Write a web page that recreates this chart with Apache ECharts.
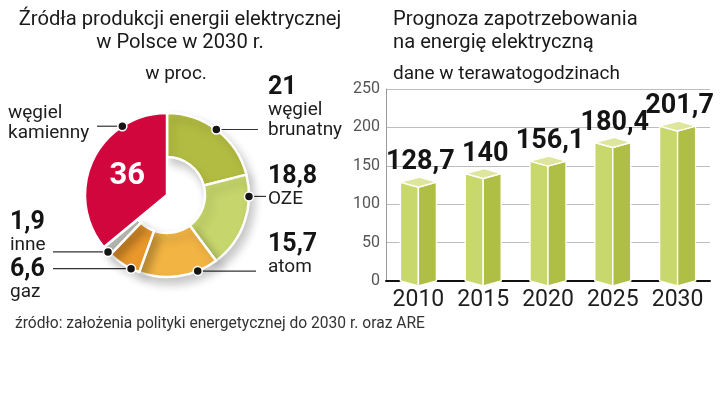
<!DOCTYPE html>
<html><head><meta charset="utf-8">
<script src="https://cdn.jsdelivr.net/npm/echarts@6/dist/echarts.min.js"></script>
<style>html,body{margin:0;padding:0;background:#fff}#c{width:720px;height:393px}</style>
</head><body><div id="c"></div>
<script>
// ---- data ----
const sliceNames = ['węgiel brunatny', 'OZE', 'atom', 'gaz', 'inne', 'węgiel kamienny'];
const sliceValues = [21, 18.8, 15.7, 6.6, 1.9, 36];
const years = ['2010', '2015', '2020', '2025', '2030'];
const demand = [128.7, 140, 156.1, 180.4, 201.7];
const yMin = 0, yMax = 250, yStep = 50;

// ---- style ----
const sliceColors = ['#b3bc42', '#c6d66c', '#f2b443', '#ea982b', '#b6bab1', '#d1063d'];
const RED = sliceNames.length - 1;
const C = [167, 195], R = 82, R0 = 38;
const labelSpec = [ // anchor angle (deg clockwise from top), label x, label y, leader end x
  { a: 37, x: 268, y: 76, lx: 258 },
  { a: 91, x: 268, y: 165, lx: 266 },
  { a: 158, x: 268, y: 233, lx: 256 },
  { a: 206, x: 10, y: 258, lx: 53 },
  { a: 226, x: 10, y: 211, lx: 53 },
  { a: 327, x: 8, y: 103, lx: 97 }
];
const TXT = 'Roboto, "Noto Sans", sans-serif';
const fmt = v => String(v).replace('.', ',');
function anchor(i) {
  const r = labelSpec[i].a * Math.PI / 180;
  return [C[0] + R * Math.sin(r), C[1] - R * Math.cos(r)];
}

const chart = echarts.init(document.getElementById('c'));

const ringData = sliceNames.map((n, i) => ({
  name: n, value: sliceValues[i],
  itemStyle: i === RED ? { color: 'transparent', borderWidth: 0, shadowBlur: 0 } : { color: sliceColors[i] }
}));
const coreData = sliceNames.map((n, i) => ({
  name: n, value: sliceValues[i],
  itemStyle: i === RED ? { color: sliceColors[i] } : { color: 'transparent', borderWidth: 0 },
  label: { show: i === RED }
}));

const dots = sliceNames.map((n, i) => {
  const p = anchor(i);
  return { type: 'circle', z: 100, shape: { cx: p[0], cy: p[1], r: 4.5 },
    style: { fill: '#151515', stroke: '#fff', lineWidth: 1.5 } };
});

const titleStyle = (size, lh) => ({ fontFamily: TXT, fontSize: size, fontWeight: 'normal', color: '#1a1a1a', lineHeight: lh });

chart.setOption({
  animation: false,
  backgroundColor: '#fff',
  title: [
    { text: 'Źródła produkcji energii elektrycznej\nw Polsce w 2030 r.', left: 180, top: 8, padding: 0, textAlign: 'center',
      textStyle: titleStyle(20.2, 23) },
    { text: 'w proc.', left: 176, top: 64, padding: 0, textAlign: 'center', textStyle: titleStyle(19, 20) },
    { text: 'Prognoza zapotrzebowania\nna energię elektryczną', left: 393, top: 8, padding: 0,
      textStyle: titleStyle(20.2, 23) },
    { text: 'dane w terawatogodzinach', left: 393, top: 64, padding: 0, textStyle: titleStyle(19, 20) },
    { text: 'źródło: założenia polityki energetycznej do 2030 r. oraz ARE', left: 15, top: 315, padding: 0,
      textStyle: { fontFamily: TXT, fontSize: 15.6, fontWeight: 'normal', color: '#333', lineHeight: 18 } }
  ],
  grid: { left: 386, right: 10, top: 89, bottom: 112 },
  xAxis: {
    type: 'category', data: years,
    axisLine: { lineStyle: { color: '#111', width: 2 } },
    axisTick: { show: false },
    axisLabel: { interval: 0, fontSize: 23, fontFamily: TXT, color: '#1e1e1e', margin: 8 }
  },
  yAxis: {
    type: 'value', min: yMin, max: yMax, interval: yStep,
    axisLine: { show: true, lineStyle: { color: '#9a9a9a', width: 1 } },
    axisTick: { show: false },
    splitLine: { lineStyle: { color: '#bdbdbd', width: 1 } },
    axisLabel: { fontSize: 16, fontFamily: TXT, color: '#555', margin: 6 }
  },
  graphic: dots,
  series: [
    {
      type: 'pie', center: C, radius: [R0, R], startAngle: 90, clockwise: true,
      data: ringData, silent: true,
      itemStyle: { borderColor: '#fff', borderWidth: 2.5, shadowBlur: 10, shadowOffsetX: 4, shadowOffsetY: 6, shadowColor: 'rgba(0,0,0,0.22)' },
      label: {
        show: true, position: 'outside', overflow: 'none', alignTo: 'none',
        formatter: p => {
          const lines = p.name.split(' ').map(s => '{t|' + s + '}');
          if (p.dataIndex !== RED) lines.unshift('{n|' + fmt(p.value) + '}');
          return lines.join('\n');
        },
        rich: {
          n: { fontFamily: TXT, fontSize: 25, fontWeight: 'bold', color: '#141414', lineHeight: 24 },
          t: { fontFamily: TXT, fontSize: 19, color: '#1e1e1e', lineHeight: 20 }
        }
      },
      labelLine: { show: true, length: 10, length2: 10, lineStyle: { color: '#333', width: 1.2 } },
      labelLayout: p => {
        const s = labelSpec[p.dataIndex], a = anchor(p.dataIndex);
        return { x: s.x, y: s.y, align: 'left', verticalAlign: 'top', width: 120,
          labelLinePoints: [[a[0], a[1]], [(a[0] + s.lx) / 2, a[1]], [s.lx, a[1]]] };
      }
    },
    {
      type: 'pie', center: C, radius: [0, R], startAngle: 90, clockwise: true,
      data: coreData, silent: true,
      itemStyle: { borderColor: '#fff', borderWidth: 2.5 },
      label: { position: 'inside', formatter: p => fmt(p.value), fontFamily: TXT, fontSize: 31, fontWeight: 'bold', color: '#fff' },
      labelLine: { show: false }
    },
    {
      type: 'custom', data: demand.map((v, i) => [i, v]), encode: { x: 0, y: 1 },
      renderItem: (params, api) => {
        const i = api.value(0), v = api.value(1);
        const top = api.coord([i, v]), base = api.coord([i, 0]);
        const cx = top[0], w = 18, d = 5, yt = top[1], yb = base[1];
        const st = { stroke: '#fff', lineWidth: 1.4 };
        return { type: 'group', children: [
          { type: 'polygon', shape: { points: [[cx - w, yt], [cx, yt + d], [cx, yb + d], [cx - w, yb]] }, style: Object.assign({ fill: '#c9d86d' }, st) },
          { type: 'polygon', shape: { points: [[cx, yt + d], [cx + w, yt], [cx + w, yb], [cx, yb + d]] }, style: Object.assign({ fill: '#afbe45' }, st) },
          { type: 'polygon', shape: { points: [[cx - w, yt], [cx + 1, yt - d], [cx + w, yt], [cx, yt + d]] }, style: Object.assign({ fill: '#dde69c' }, st) },
          { type: 'text', style: { text: fmt(v), x: cx + 2, y: yt - d - 1, align: 'center', verticalAlign: 'bottom',
            font: 'bold 27px ' + TXT, fill: '#141414' } }
        ] };
      }
    }
  ]
});
</script></body></html>
